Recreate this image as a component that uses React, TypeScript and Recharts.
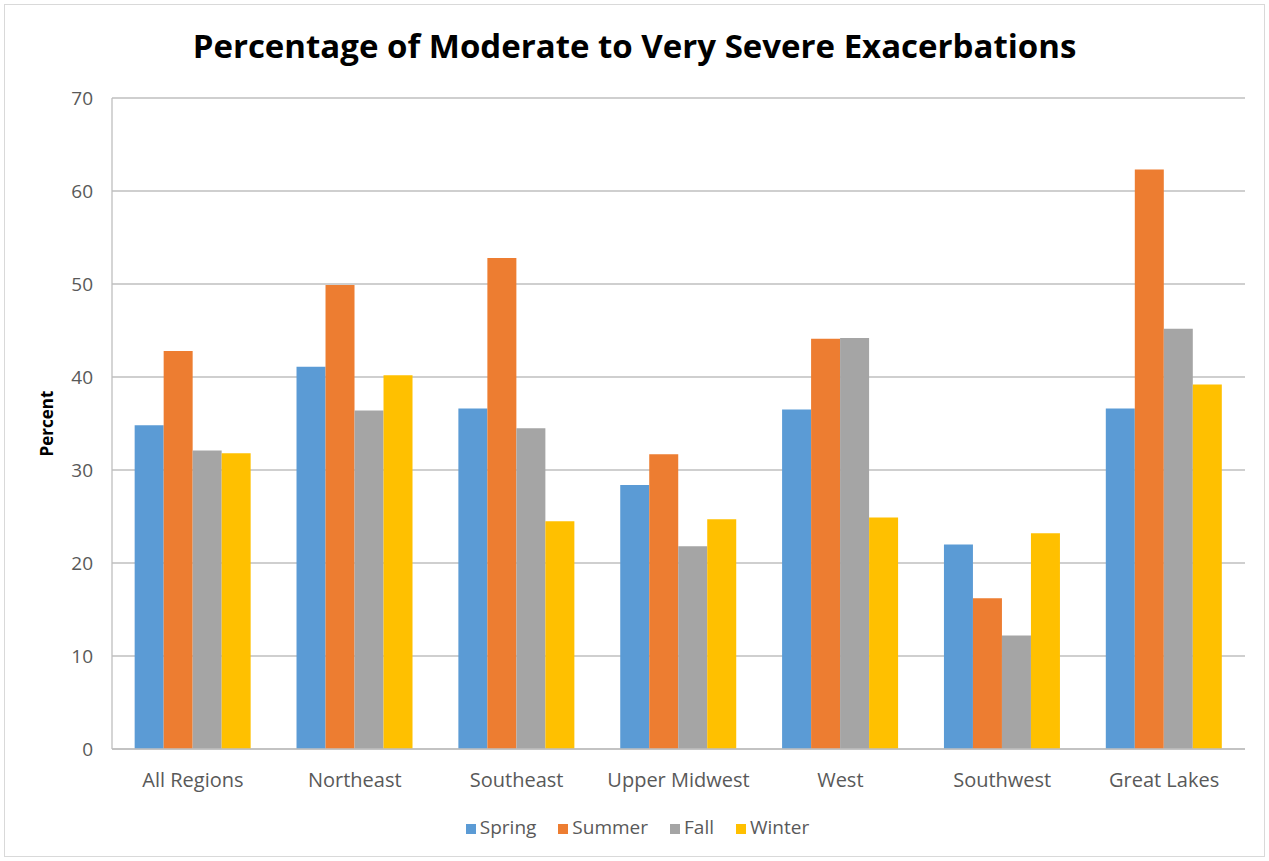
import React from "react";
import {
  BarChart,
  Bar,
  XAxis,
  YAxis,
  CartesianGrid,
  Legend,
} from "recharts";

const regions = [
  "All Regions",
  "Northeast",
  "Southeast",
  "Upper Midwest",
  "West",
  "Southwest",
  "Great Lakes",
];

const spring = [34.8, 41.1, 36.6, 28.4, 36.5, 22.0, 36.6];
const summer = [42.8, 49.9, 52.8, 31.7, 44.1, 16.2, 62.3];
const fall = [32.1, 36.4, 34.5, 21.8, 44.2, 12.2, 45.2];
const winter = [31.8, 40.2, 24.5, 24.7, 24.9, 23.2, 39.2];

const yTicks = [0, 10, 20, 30, 40, 50, 60, 70];

const SERIES = [
  { key: "Spring", color: "#5B9BD5" },
  { key: "Summer", color: "#ED7D31" },
  { key: "Fall", color: "#A5A5A5" },
  { key: "Winter", color: "#FFC000" },
];

const data = regions.map((name, i) => ({
  name,
  Spring: spring[i],
  Summer: summer[i],
  Fall: fall[i],
  Winter: winter[i],
}));

const FONT = "'Open Sans', sans-serif";
const TEXT = "#595959";

function PercentLabel(props: any) {
  const vb = props.viewBox || {};
  const cy = (vb.y ?? 0) + (vb.height ?? 0) / 2;
  return (
    <text
      x={53}
      y={cy}
      transform={`rotate(-90, 53, ${cy})`}
      textAnchor="middle"
      fontFamily={FONT}
      fontSize={17}
      fontWeight="bold"
      fill="#000"
    >
      Percent
    </text>
  );
}

export default function App() {
  return (
    <div
      style={{
        position: "absolute",
        left: 0,
        top: 0,
        width: 1269,
        height: 861,
        background: "#fff",
      }}
    >
      <div
        style={{
          position: "absolute",
          left: 4,
          top: 4,
          width: 1259,
          height: 851,
          border: "1px solid #D9D9D9",
        }}
      />
      <div
        style={{
          position: "absolute",
          left: 0,
          top: 23,
          width: 1269,
          textAlign: "center",
          fontFamily: FONT,
          fontSize: 33,
          fontWeight: 700,
          color: "#000",
        }}
      >
        Percentage of Moderate to Very Severe Exacerbations
      </div>
      <BarChart
        width={1269}
        height={861}
        data={data}
        margin={{ top: 98, right: 24, bottom: 82, left: 0 }}
        barCategoryGap="14%"
        barGap={0}
        style={{ position: "absolute", left: 0, top: 0 }}
      >
        <CartesianGrid
          vertical={false}
          stroke="#BFBFBF"
          strokeWidth={1.3}
        />
        <XAxis
          dataKey="name"
          tickLine={false}
          tickSize={0}
          tickMargin={24}
          axisLine={{ stroke: "#BFBFBF", strokeWidth: 1.3 }}
          tick={{ fill: TEXT, fontSize: 20, fontFamily: FONT }}
          interval={0}
        />
        <YAxis
          width={112}
          domain={[0, 70]}
          ticks={yTicks}
          tickLine={false}
          tickSize={0}
          tickMargin={19}
          axisLine={{ stroke: "#BFBFBF", strokeWidth: 1.3 }}
          tick={{ fill: TEXT, fontSize: 19, fontFamily: FONT }}
          label={<PercentLabel />}
        />
        <Legend
          verticalAlign="middle"
          align="center"
          iconType="square"
          iconSize={10}
          itemSorter={(item: any) =>
            SERIES.findIndex((s) => s.key === item.value)
          }
          wrapperStyle={{ top: 814, left: 26, fontFamily: FONT, fontSize: 19 }}
          formatter={(value: string) => (
            <span style={{ color: TEXT, paddingRight: 12 }}>{value}</span>
          )}
        />
        {SERIES.map((s) => (
          <Bar
            key={s.key}
            dataKey={s.key}
            fill={s.color}
            isAnimationActive={false}
          />
        ))}
      </BarChart>
    </div>
  );
}
